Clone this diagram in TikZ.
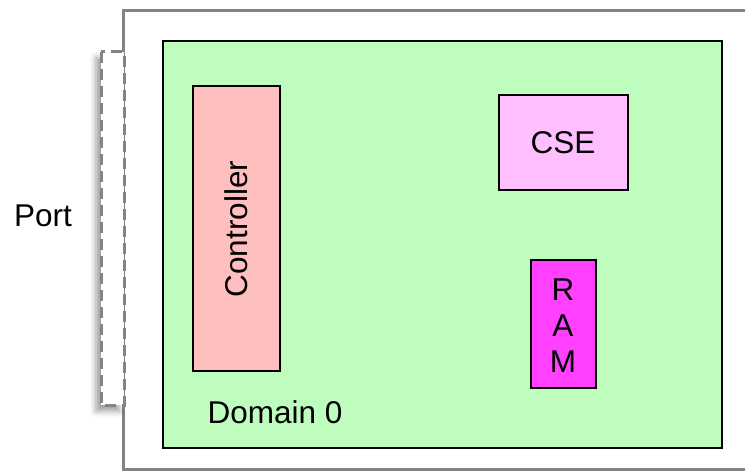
\documentclass[tikz,border=0pt]{standalone}
\usepackage{fontspec}
\setmainfont{Liberation Sans}
\usetikzlibrary{shadows.blur}

\definecolor{boardgray}{RGB}{132,132,132}
\definecolor{domaingreen}{RGB}{191,253,191}
\definecolor{ctrlpink}{RGB}{255,191,191}
\definecolor{csepink}{RGB}{255,191,255}
\definecolor{rammagenta}{RGB}{255,64,255}

\tikzset{
	block/.style={draw=black, line width=2.2pt},
	label/.style={font=\fontsize{31.5}{36}\selectfont, inner sep=0pt}
}

\begin{document}
\begin{tikzpicture}[x=1pt, y=-1pt]
			%%%%% START %%%%%
			
			\useasboundingbox (0, 0) rectangle (745, 473);
			
			% board outline, runs off to the right
			\draw[line width=3pt, color=boardgray] (745, 11) -- (123, 11) -- (123, 469) -- (745, 469);
			
			% port on the left edge
			\draw[fill=white, draw=boardgray, dash pattern=on 11pt off 6pt, line width=3pt,
				blur shadow={shadow xshift=-5pt, shadow yshift=-6pt, shadow opacity=40, shadow blur radius=6pt}]
				(101, 52) rectangle (124, 405);
			\node[label] (port) at (43, 216) {Port};
			
			% domain 0
			\draw[block, fill=domaingreen] (163, 41) rectangle (722, 448);
			\node[label] (domain) at (275, 412) {Domain 0};
			
			\draw[block, fill=ctrlpink] (193, 86) rectangle (280, 371);
			\node[label, rotate=90] (controller) at (236, 229) {Controller};
			
			\draw[block, fill=csepink] (499, 95) rectangle (628, 190);
			\node[label] (cse) at (563, 143) {CSE};
			
			\draw[block, fill=rammagenta] (531, 260) rectangle (596, 388);
			\node[label, align=center] (ram) at (563, 326) {R\\A\\M};
			
			%%%%% END %%%%%
\end{tikzpicture}
\end{document}
